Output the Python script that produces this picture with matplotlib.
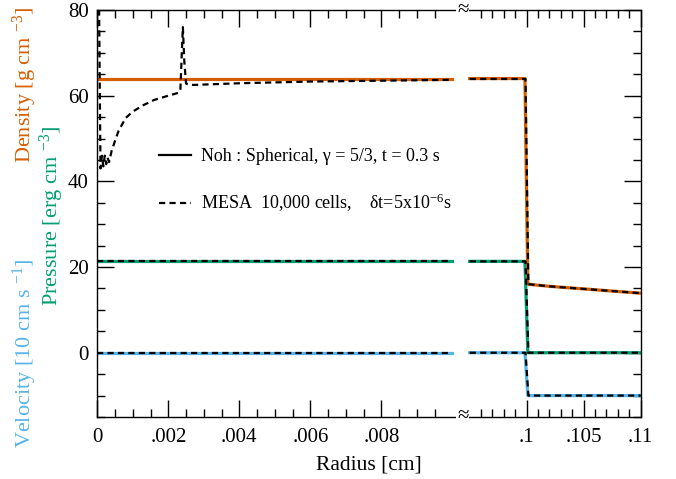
import matplotlib
matplotlib.use('Agg')
import matplotlib.pyplot as plt
from matplotlib.lines import Line2D

plt.rcParams['font.family'] = ['Liberation Serif', 'DejaVu Serif']
plt.rcParams['mathtext.fontset'] = 'custom'
plt.rcParams['mathtext.rm'] = 'Liberation Serif'
plt.rcParams['mathtext.it'] = 'Liberation Serif:italic'

# ---------------- data ----------------
# exact (Noh) solution, inner segment
r_exact_in = [0.0, 0.01]
rho_exact_in = [64.0, 64.0]
p_exact_in = [21.33, 21.33]
v_exact_in = [0.0, 0.0]
# exact solution, outer segment
r_exact_out = [0.095, 0.09985, 0.1001, 0.102, 0.104, 0.106, 0.108, 0.11]
rho_exact_out = [64.0, 64.0, 16.0, 15.5, 15.1, 14.7, 14.3, 13.9]
p_exact_out = [21.33, 21.33, 0.0, 0.0, 0.0, 0.0, 0.0, 0.0]
v_exact_out = [0.0, 0.0, -10.0, -10.0, -10.0, -10.0, -10.0, -10.0]

# MESA, inner segment
r_mesa_in = [0.0, 0.00004, 0.00009, 0.00013, 0.00017, 0.00021, 0.00025, 0.00029,
             0.00033, 0.0004, 0.0005, 0.0006, 0.0008, 0.001, 0.0013, 0.0016,
             0.002, 0.0023, 0.00234, 0.00238, 0.00241, 0.00245, 0.0025, 0.0027,
             0.003, 0.004, 0.005, 0.006, 0.007, 0.008, 0.009, 0.01]
rho_mesa_in = [100.0, 90.0, 43.0, 46.0, 43.5, 46.0, 44.0, 45.5,
               44.5, 47.0, 49.5, 51.8, 54.8, 56.3, 57.8, 59.0,
               60.0, 60.7, 61.5, 70.0, 76.0, 68.0, 62.8, 62.5,
               62.6, 62.9, 63.1, 63.3, 63.4, 63.5, 63.6, 63.7]
r_mesa_pv_in = [0.0, 0.01]
p_mesa_in = [21.33, 21.33]
v_mesa_in = [0.0, 0.0]
# MESA, outer segment
r_mesa_out = [0.095, 0.0999, 0.10015, 0.102, 0.104, 0.106, 0.108, 0.11]
rho_mesa_out = [63.9, 63.9, 16.0, 15.5, 15.1, 14.7, 14.3, 13.9]
p_mesa_out = [21.33, 21.33, 0.0, 0.0, 0.0, 0.0, 0.0, 0.0]
v_mesa_out = [0.0, 0.0, -10.0, -10.0, -10.0, -10.0, -10.0, -10.0]

xticks_in = [0.0, 0.002, 0.004, 0.006, 0.008]
xticklabels_in = ['0', '.002', '.004', '.006', '.008']
xticks_out = [0.1, 0.105, 0.11]
xticklabels_out = ['.1', '.105', '.11']
yticks = [0, 20, 40, 60, 80]
yticklabels = ['0', '20', '40', '60', '80']

C_RHO = '#D55E00'
C_P = '#009E73'
C_V = '#56B4E9'

# ---------------- figure ----------------
W, H = 676, 479
fig = plt.figure(figsize=(W / 100, H / 100), dpi=100)
x0, xb, x1 = 97.3, 462.7, 640.7
ytop, ybot = 10.0, 417.0
bottom = 1 - ybot / H
height = (ybot - ytop) / H
ax1 = fig.add_axes([x0 / W, bottom, (xb - x0) / W, height])
ax2 = fig.add_axes([xb / W, bottom, (x1 - xb) / W, height])

ax1.set_xlim(0.0, 0.01029)
ax2.set_xlim(0.09439, 0.11)

lw_c = 2.3
lw_d = 1.6
dash = (0, (2.8, 1.9))

for ax, r_e, rho_e, p_e, v_e in [(ax1, r_exact_in, rho_exact_in, p_exact_in, v_exact_in),
                                 (ax2, r_exact_out, rho_exact_out, p_exact_out, v_exact_out)]:
    ax.plot(r_e, v_e, color=C_V, lw=lw_c)
    ax.plot(r_e, p_e, color=C_P, lw=lw_c)
    ax.plot(r_e, rho_e, color=C_RHO, lw=lw_c)

ax1.plot(r_mesa_pv_in, v_mesa_in, color='black', lw=lw_d, ls=dash)
ax1.plot(r_mesa_pv_in, p_mesa_in, color='black', lw=lw_d, ls=dash)
ax1.plot(r_mesa_in, rho_mesa_in, color='black', lw=lw_d, ls=dash)
ax2.plot(r_mesa_out, v_mesa_out, color='black', lw=lw_d, ls=dash)
ax2.plot(r_mesa_out, p_mesa_out, color='black', lw=lw_d, ls=dash)
ax2.plot(r_mesa_out, rho_mesa_out, color='black', lw=lw_d, ls=dash)

yminor = list(range(-15, 81, 5))
for ax in (ax1, ax2):
    ax.set_ylim(-15, 80)
    ax.set_yticks(yticks)
    ax.set_yticks(yminor, minor=True)
    for s in ax.spines.values():
        s.set_linewidth(1.0)
    ax.tick_params(which='both', direction='in', width=1.0, labelsize=15)
    ax.tick_params(axis='x', pad=8)
    ax.tick_params(axis='y', pad=6)
    ax.tick_params(which='major', length=12)
    ax.tick_params(which='minor', length=6)

ax1.set_yticklabels(yticklabels)
ax1.set_xticks(xticks_in)
ax1.set_xticklabels(xticklabels_in)
ax1.set_xticks([i * 0.0005 for i in range(20)], minor=True)
ax1.spines['right'].set_visible(False)
ax1.tick_params(which='both', top=True, right=False, left=True)

ax2.set_xticks(xticks_out)
ax2.set_xticklabels(xticklabels_out)
ax2.set_xticks([0.096 + i * 0.001 for i in range(15)], minor=True)
ax2.spines['left'].set_visible(False)
ax2.tick_params(which='both', top=True, right=True, left=False, labelleft=False)

# axis break marks
for yy in (ytop, ybot):
    fig.text(xb / W, 1 - yy / H, '≈', ha='center', va='center', fontsize=15,
             bbox=dict(fc='white', ec='none', pad=0.5))

# axis labels
fig.text((x0 + x1) / 2 / W, 1 - 465 / H, 'Radius [cm]', ha='center', va='center', fontsize=15.5)
fig.text(25 / W, 1 - 85 / H, 'Density [g cm $^{-3}$]', rotation=90, ha='center', va='center',
         fontsize=16, color=C_RHO)
fig.text(52 / W, 1 - 216 / H, 'Pressure [erg cm $^{-3}$]', rotation=90, ha='center', va='center',
         fontsize=16, color=C_P)
fig.text(25 / W, 1 - 353 / H, 'Velocity [10 cm s $^{-1}$]', rotation=90, ha='center', va='center',
         fontsize=16, color=C_V)

handles = [Line2D([], [], color='black', lw=1.6),
           Line2D([], [], color='black', lw=1.6, ls=dash)]
labels = ['Noh : Spherical, γ = 5/3, t = 0.3 s',
          'MESA  10,000 cells,    δt=5x10$^{-6}$s']
ax1.legend(handles, labels, loc='center left', bbox_to_anchor=(159 / W, 1 - 181 / H),
           bbox_transform=fig.transFigure, frameon=False, fontsize=13,
           handlelength=1.75, handletextpad=0.55, labelspacing=1.5, borderpad=0,
           borderaxespad=0)

fig.savefig('out.png', dpi=100)
